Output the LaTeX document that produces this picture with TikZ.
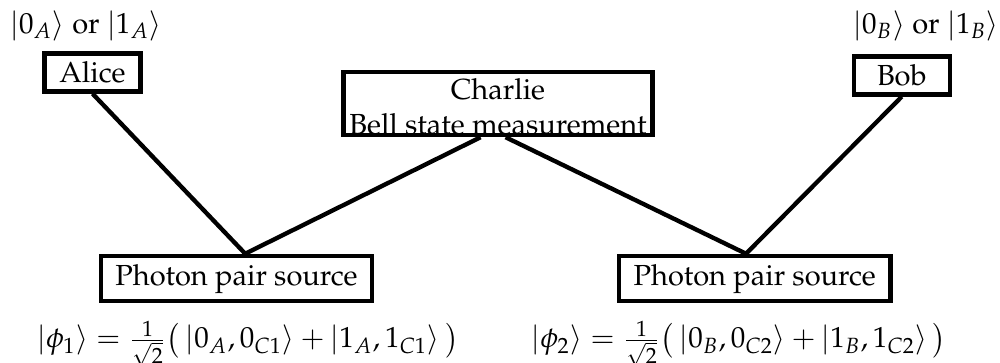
\documentclass[tikz,border=0pt]{standalone}
\usepackage[T1]{fontenc}
\usepackage{amsmath}
\usepackage{mathpazo}
\usetikzlibrary{positioning, calc}

\begin{document}
\begin{tikzpicture}[line width=1.5pt, box/.style={draw, inner xsep=5pt, inner ysep=2.8pt, minimum width=33pt}]
        \useasboundingbox (0,0) rectangle (12.11,4.384);
        % Alice and Bob
        \node[box] (alice) at (1.120,3.506) {Alice};
        \node[anchor=base] (alicestate) at (1.041,3.984) {$|0_A\rangle$ or $|1_A\rangle$};
        \node[box] (bob) at (10.921,3.470) {Bob};
        \node[anchor=base] (bobstate) at (11.214,3.984) {$|0_B\rangle$ or $|1_B\rangle$};
        % Charlie
        \node[draw, inner xsep=2pt, inner ysep=0pt, align=center] (charlie) at (6.031,3.130) {\rule{0pt}{9.5pt}Charlie\\Bell state measurement};
        % Sources
        \node[box] (srcone) at (2.864,1.010) {Photon pair source};
        \node[anchor=base] (phione) at (3.003,0.170) {$|\phi_1\rangle = \frac{1}{\sqrt{2}}\big(\,|0_A,0_{C1}\rangle + |1_A,1_{C1}\rangle\,\big)$};
        \node[box] (srctwo) at (9.140,1.010) {Photon pair source};
        \node[anchor=base] (phitwo) at (8.949,0.170) {$|\phi_2\rangle = \frac{1}{\sqrt{2}}\big(\,|0_B,0_{C2}\rangle + |1_B,1_{C2}\rangle\,\big)$};
        % Links
        \draw (alice.south) -- ([xshift=3pt]srcone.north) -- ([xshift=-6pt]charlie.south);
        \draw (bob.south) -- ([xshift=-3pt]srctwo.north) -- ([xshift=2.6pt]charlie.south);
    \end{tikzpicture}
\end{document}
